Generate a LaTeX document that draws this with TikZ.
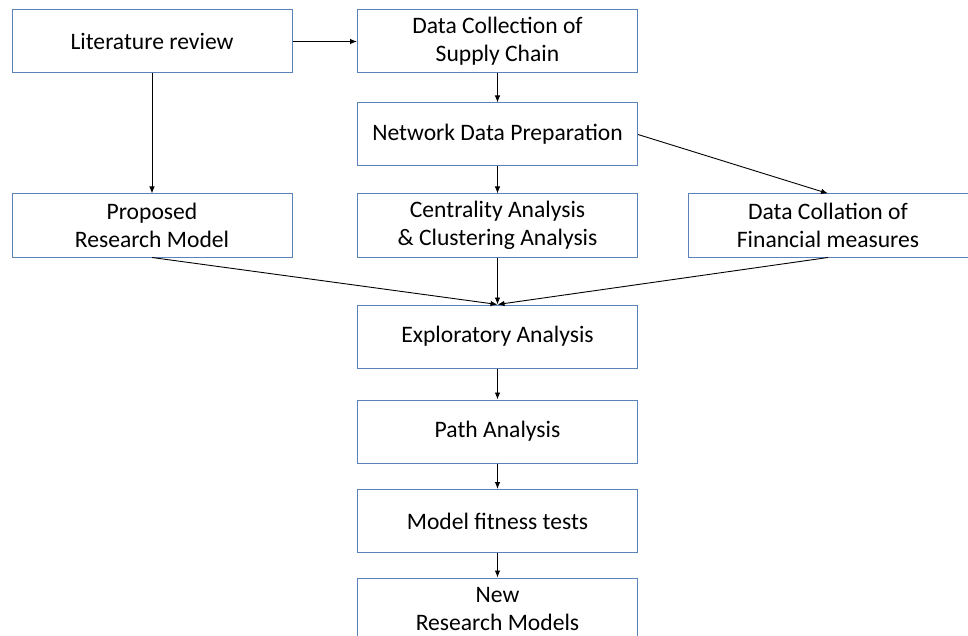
\documentclass[tikz,border=0pt]{standalone}
\usepackage{fontspec}
\setmainfont{Carlito}
\usetikzlibrary{arrows.meta}
\definecolor{boxblue}{RGB}{90,130,185}
\tikzset{
  stepbox/.style={draw=boxblue, line width=1pt, minimum width=280pt, minimum height=63pt,
    inner sep=0pt, align=center, font=\fontsize{23.6}{28}\selectfont, fill=white},
  flow/.style={draw=black, line width=0.9pt, -{Latex[length=7pt,width=5.5pt]}}
}
\begin{document}
\begin{tikzpicture}[x=1pt,y=-1pt]
  \useasboundingbox (0,0) rectangle (968,636);
  \fill[white] (0,0) rectangle (968,636);
  \node[stepbox] (lit)   at (152,41.5)   {Literature review};
  \node[stepbox] (dcol)  at (497.5,41.5) {Data Collection of\\Supply Chain};
  \node[stepbox] (net)   at (497.5,134.5){Network Data Preparation};
  \node[stepbox] (prop)  at (152,225.5)  {Proposed\\Research Model};
  \node[stepbox] (cent)  at (497.5,225.5){Centrality Analysis\\\& Clustering Analysis};
  \node[stepbox] (coll)  at (828,225.5)  {Data Collation of\\Financial measures};
  \node[stepbox] (expl)  at (497.5,336.5){Exploratory Analysis};
  \node[stepbox] (path)  at (497.5,431.5){Path Analysis};
  \node[stepbox] (model) at (497.5,521)  {Model fitness tests};
  \node[stepbox] (new)   at (497.5,609.5){New\\Research Models};

  \draw[flow] (lit.east) -- (dcol.west);
  \draw[flow] (lit.south) -- (prop.north);
  \draw[flow] (dcol.south) -- (net.north);
  \draw[flow] (net.south) -- (cent.north);
  \draw[flow] (net.east) -- (coll.north);
  \draw[flow] (prop.south) -- (expl.north);
  \draw[flow] (cent.south) -- (expl.north);
  \draw[flow] (coll.south) -- (expl.north);
  \draw[flow] (expl.south) -- (path.north);
  \draw[flow] (path.south) -- (model.north);
  \draw[flow] (model.south) -- (new.north);
\end{tikzpicture}
\end{document}
